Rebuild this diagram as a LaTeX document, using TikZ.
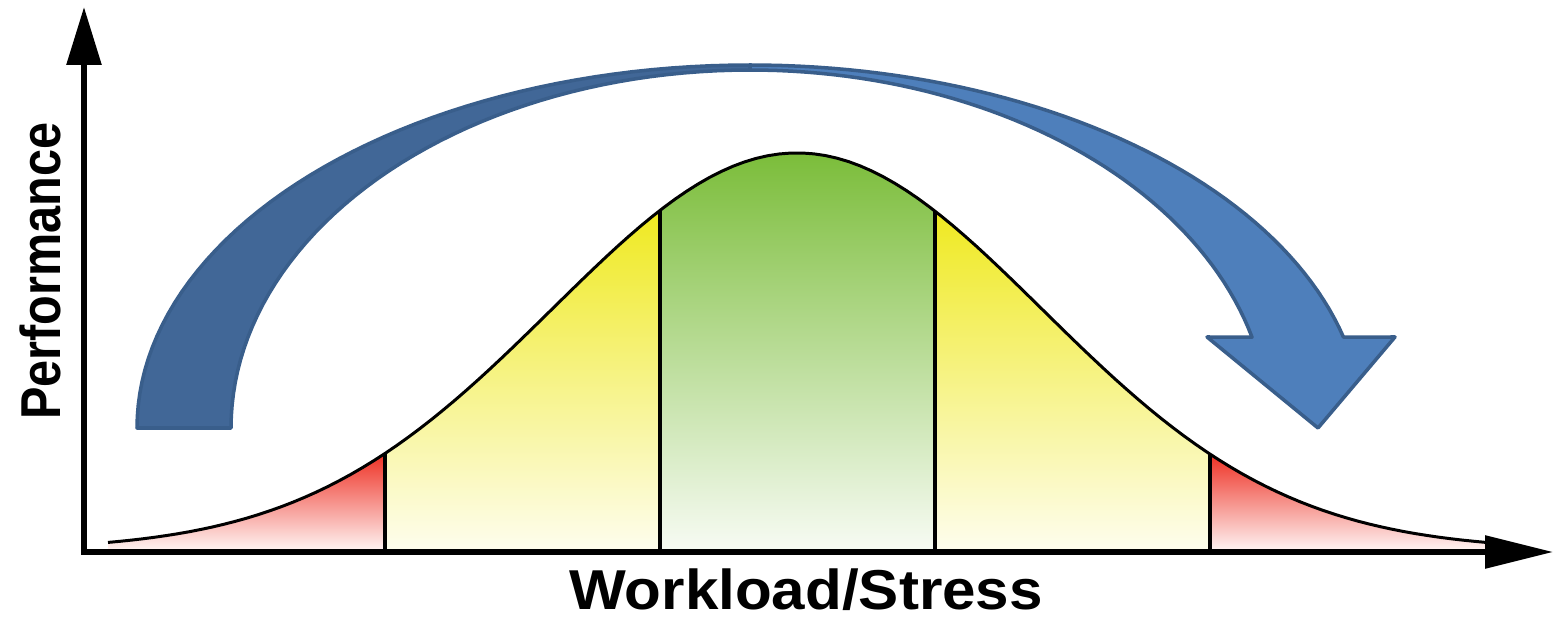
\documentclass[tikz,border=0pt]{standalone}
\usepackage{fontspec}
\setmainfont{Liberation Sans}
\usetikzlibrary{arrows.meta}
\definecolor{stressred}{HTML}{EE3124}
\definecolor{stressyellow}{HTML}{EFE920}
\definecolor{stressgreen}{HTML}{7BBD3A}
\definecolor{arrowdark}{HTML}{416797}
\definecolor{arrowlight}{HTML}{4E7FBB}
\definecolor{arrowline}{HTML}{395E8B}
\tikzstyle{axis} = [line width=3.3pt, {Triangle[length=1.16cm,width=0.68cm]}-{Triangle[length=1.36cm,width=0.64cm]}]
\tikzstyle{divider} = [line width=2.5pt]
\tikzstyle{bell} = [line width=1.7pt]
\tikzstyle{band} = [draw=arrowline, line width=2pt, line join=round]
\tikzstyle{axislabel} = [font=\fontsize{32}{32}\selectfont\bfseries, inner sep=0pt]

\begin{document}
\begin{tikzpicture}[x=0.02cm, y=-0.02cm, declare function={perf(\x)=550-397*exp(-0.5*((\x-797)/245)^2);}]
  \useasboundingbox (0,0) rectangle (1554,617);

  % zones under the curve
  \shade[top color=stressred, bottom color=stressred!6!white] (108,550) -- plot[domain=108:385, samples=40] (\x,{perf(\x)}) -- (385,550) -- cycle;
  \shade[top color=stressyellow, bottom color=stressyellow!8!white] (385,550) -- plot[domain=385:660, samples=40] (\x,{perf(\x)}) -- (660,550) -- cycle;
  \shade[top color=stressgreen, bottom color=stressgreen!6!white] (660,550) -- plot[domain=660:935, samples=40] (\x,{perf(\x)}) -- (935,550) -- cycle;
  \shade[top color=stressyellow, bottom color=stressyellow!8!white] (935,550) -- plot[domain=935:1210, samples=40] (\x,{perf(\x)}) -- (1210,550) -- cycle;
  \shade[top color=stressred, bottom color=stressred!6!white] (1210,550) -- plot[domain=1210:1485, samples=40] (\x,{perf(\x)}) -- (1485,550) -- cycle;

  \draw[bell] plot[domain=108:1485, samples=120] (\x,{perf(\x)});
  \foreach \xd in {385,660,935,1210}
    \draw[divider] (\xd,550) -- (\xd,{perf(\xd)});

  % axes
  \coordinate (ytop) at (84,7);
  \coordinate (origin) at (84,552);
  \coordinate (xend) at (1553,552);
  \draw[axis] (ytop) -- (origin) -- (xend);

  % curved arrow
  \filldraw[band, fill=arrowdark] plot[domain=180:270, samples=50] ({750+613*cos(\x)},{428+363*sin(\x)}) -- plot[domain=270:180, samples=50] ({750+519*cos(\x)},{428+358*sin(\x)}) -- cycle;
  \filldraw[band, fill=arrowlight] plot[domain=270:345.5, samples=50] ({750+613*cos(\x)},{428+363*sin(\x)}) -- (1395,337) -- (1318,428) -- (1207,337) -- plot[domain=345.3:270, samples=50] ({750+519*cos(\x)},{428+358*sin(\x)}) -- cycle;

  % labels
  \node[axislabel, rotate=90, anchor=base] (ylabel) at (60,271) {\scalebox{0.865}[1]{Performance}};
  \node[axislabel, anchor=base] (xlabel) at (806,609) {\scalebox{1.07}[1]{Workload/Stress}};
\end{tikzpicture}
\end{document}
